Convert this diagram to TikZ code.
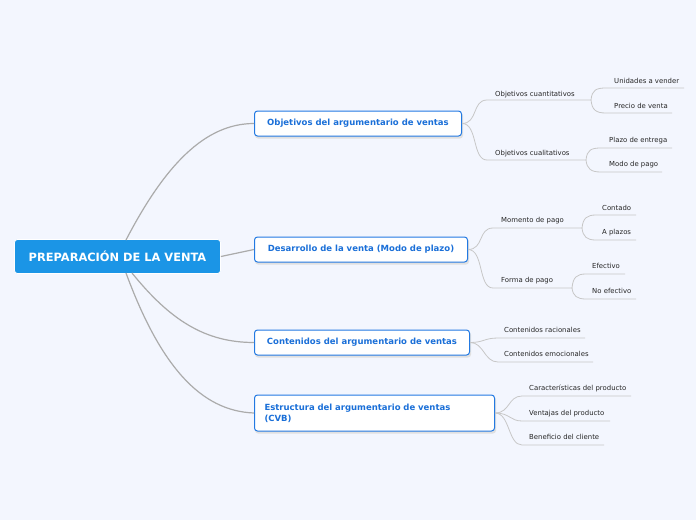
\documentclass[tikz,border=0pt]{standalone}
\usepackage{fontspec}
\setmainfont{DejaVu Sans}
\begin{document}
\begin{tikzpicture}[x=1pt,y=-1pt,
  conn/.style={draw=black!33, line width=1.2pt},
  sconn/.style={draw=black!22, line width=0.8pt},
  rootbox/.style={fill=rootblue, draw=white, line width=0.8pt, rounded corners=3pt, text=white,
    font=\fontsize{11.4}{13}\selectfont\bfseries, minimum width=206, minimum height=34, inner sep=0pt},
  mainbox/.style={fill=white, draw=boxblue, line width=1pt, rounded corners=3pt, text=txtblue,
    font=\fontsize{8.5}{11}\selectfont\bfseries, minimum height=25, inner sep=0pt, anchor=west},
  leaf/.style={text=black!85, font=\fontsize{6.9}{8}\selectfont, inner sep=0pt, anchor=base west},
  shadow/.style={fill=black!12, draw=none, rounded corners=3pt}
]
\definecolor{bg}{HTML}{F3F6FE}
\definecolor{rootblue}{HTML}{1B95E6}
\definecolor{boxblue}{HTML}{2279E2}
\definecolor{txtblue}{HTML}{1A6FD8}
\fill[bg] (0,0) rectangle (696,520);
\useasboundingbox (0,0) rectangle (696,520);

\coordinate (r1) at (126,240);
\coordinate (r3) at (132,273);
\coordinate (r4) at (126,273);

% root
\node[rootbox] (root) at (117.5,256.5) {PREPARACIÓN DE LA VENTA};

% shadows
\fill[shadow] (255,113) rectangle (463,138.5);
\fill[shadow] (255,239) rectangle (469,264.5);
\fill[shadow] (255,332) rectangle (471,357.5);
\fill[shadow] (255,397) rectangle (496,433.5);

% main boxes
\node[mainbox, minimum width=207] (b1) at (254,123.5) {Objetivos del argumentario de ventas};
\node[mainbox, minimum width=213] (b2) at (254,249.5) {Desarrollo de la venta (Modo de plazo)};
\node[mainbox, minimum width=215] (b3) at (254,342.5) {Contenidos del argumentario de ventas};
\node[mainbox, minimum width=240, minimum height=36, align=left, text width=220, inner xsep=10pt] (b4) at (254,413) {Estructura del argumentario de ventas\\(CVB)};

% root connectors
\draw[conn] (r1) .. controls (165,165) and (205,123.5) .. (b1.west);
\draw[conn] (root.east) -- (b2.west);
\draw[conn] (r3) .. controls (170,320) and (205,342.5) .. (b3.west);
\draw[conn] (r4) .. controls (160,365) and (200,411) .. (b4.west);

% ---- branch 1
\node[leaf] (c11) at (495,96.5) {Objetivos cuantitativos};
\node[leaf] (c12) at (495,155.5) {Objetivos cualitativos};
\coordinate (u11a) at (487,100); \coordinate (u11b) at (591,100);
\coordinate (u12a) at (487,160); \coordinate (u12b) at (586,160);
\draw[sconn] (b1.east) .. controls (478,123.5) and (472,100) .. (u11a) -- (u11b);
\draw[sconn] (b1.east) .. controls (478,123.5) and (472,160) .. (u12a) -- (u12b);

\node[leaf] (d111) at (614,83.5) {Unidades a vender};
\node[leaf] (d112) at (614,108.5) {Precio de venta};
\coordinate (v111a) at (606,88); \coordinate (v111b) at (684,88);
\coordinate (v112a) at (606,113); \coordinate (v112b) at (672,113);
\draw[sconn] (u11b) .. controls (592,90) and (596,88) .. (v111a) -- (v111b);
\draw[sconn] (u11b) .. controls (592,110) and (596,113) .. (v112a) -- (v112b);

\node[leaf] (d121) at (609,142.5) {Plazo de entrega};
\node[leaf] (d122) at (609,166.5) {Modo de pago};
\coordinate (v121a) at (601,148); \coordinate (v121b) at (672,148);
\coordinate (v122a) at (601,172); \coordinate (v122b) at (662,172);
\draw[sconn] (u12b) .. controls (587,150) and (591,148) .. (v121a) -- (v121b);
\draw[sconn] (u12b) .. controls (587,169) and (591,172) .. (v122a) -- (v122b);

% ---- branch 2
\node[leaf] (c21) at (501,222.5) {Momento de pago};
\node[leaf] (c22) at (501,282.5) {Forma de pago};
\coordinate (u21a) at (493,228); \coordinate (u21b) at (582,228);
\coordinate (u22a) at (493,288); \coordinate (u22b) at (572,288);
\draw[sconn] (b2.east) .. controls (484,249.5) and (478,228) .. (u21a) -- (u21b);
\draw[sconn] (b2.east) .. controls (484,249.5) and (478,288) .. (u22a) -- (u22b);

\node[leaf] (d211) at (602,210.5) {Contado};
\node[leaf] (d212) at (602,234.5) {A plazos};
\coordinate (v211a) at (596,215); \coordinate (v211b) at (636,215);
\coordinate (v212a) at (596,240); \coordinate (v212b) at (636,240);
\draw[sconn] (u21b) .. controls (583,218) and (587,215) .. (v211a) -- (v211b);
\draw[sconn] (u21b) .. controls (583,237) and (587,240) .. (v212a) -- (v212b);

\node[leaf] (d221) at (592,268.5) {Efectivo};
\node[leaf] (d222) at (592,293.5) {No efectivo};
\coordinate (v221a) at (586,274); \coordinate (v221b) at (625,274);
\coordinate (v222a) at (586,299); \coordinate (v222b) at (636,299);
\draw[sconn] (u22b) .. controls (573,277) and (577,274) .. (v221a) -- (v221b);
\draw[sconn] (u22b) .. controls (573,296) and (577,299) .. (v222a) -- (v222b);

% ---- branch 3
\node[leaf] (c31) at (504,332.5) {Contenidos racionales};
\node[leaf] (c32) at (504,356.5) {Contenidos emocionales};
\coordinate (u31a) at (498,338); \coordinate (u31b) at (585,338);
\coordinate (u32a) at (498,362); \coordinate (u32b) at (593,362);
\draw[sconn] (b3.east) .. controls (484,342.5) and (484,338) .. (u31a) -- (u31b);
\draw[sconn] (b3.east) .. controls (484,342.5) and (484,362) .. (u32a) -- (u32b);

% ---- branch 4
\node[leaf] (c41) at (529,390.5) {Características del producto};
\node[leaf] (c42) at (529,415.5) {Ventajas del producto};
\node[leaf] (c43) at (529,439.5) {Beneficio del cliente};
\coordinate (u41a) at (522,396); \coordinate (u41b) at (631,396);
\coordinate (u42a) at (522,421); \coordinate (u42b) at (610,421);
\coordinate (u43a) at (522,445); \coordinate (u43b) at (604,445);
\draw[sconn] (b4.east) .. controls (510,413) and (508,396) .. (u41a) -- (u41b);
\draw[sconn] (b4.east) .. controls (510,413) and (510,421) .. (u42a) -- (u42b);
\draw[sconn] (b4.east) .. controls (510,413) and (508,445) .. (u43a) -- (u43b);
\end{tikzpicture}
\end{document}
